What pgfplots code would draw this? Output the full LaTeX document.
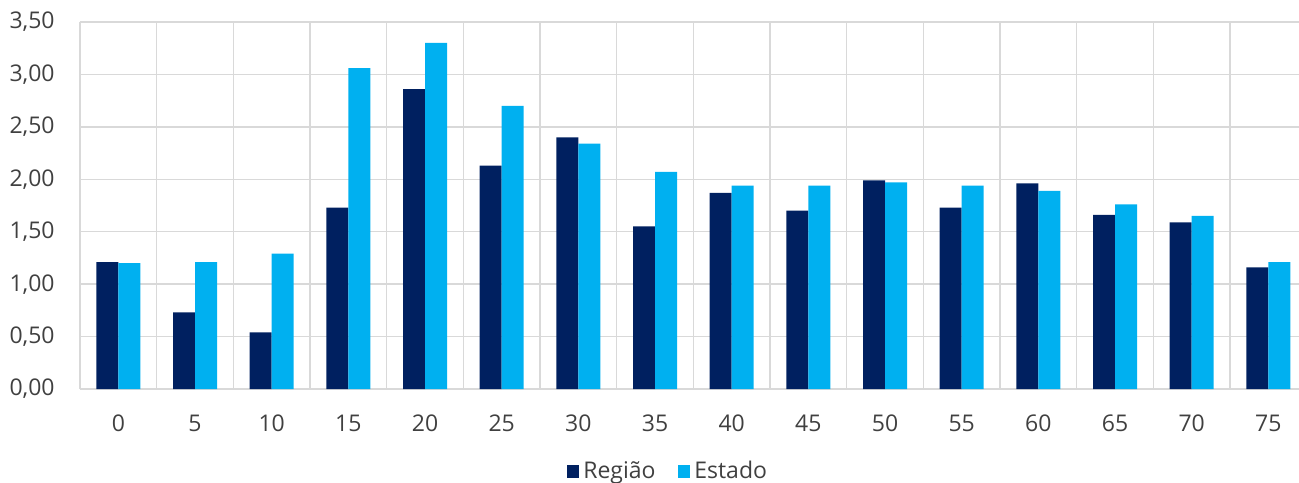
\documentclass[border=0pt]{standalone}
\usepackage{pgfplots}
\pgfplotsset{compat=1.18}
\usepackage{fontspec}
\setmainfont{Open Sans}
\definecolor{regiao}{HTML}{002060}
\definecolor{estado}{HTML}{00B0F0}
\definecolor{gridc}{HTML}{D9D9D9}
\definecolor{txt}{HTML}{404040}
\pgfplotstableread{
x R E
0 1.21 1.20
1 0.73 1.21
2 0.54 1.29
3 1.73 3.06
4 2.86 3.30
5 2.13 2.70
6 2.40 2.34
7 1.55 2.07
8 1.87 1.94
9 1.70 1.94
10 1.99 1.97
11 1.73 1.94
12 1.96 1.89
13 1.66 1.76
14 1.59 1.65
15 1.16 1.21
}\data
\begin{document}
\begin{tikzpicture}
\begin{axis}[
  at={(0,0)}, anchor=south west,
  scale only axis, width=609.5pt, height=183.5pt,
  xmin=-0.5, xmax=15.4, ymin=0, ymax=3.5,
  ytick={0,0.5,...,3.5},
  xtick={0,...,15},
  xticklabels={0,5,10,15,20,25,30,35,40,45,50,55,60,65,70,75},
  minor xtick={-0.5,0.5,1.5,2.5,3.5,4.5,5.5,6.5,7.5,8.5,9.5,10.5,11.5,12.5,13.5,14.5},
  xminorgrids, ymajorgrids,
  grid style={draw=gridc, line width=0.75pt},
  minor grid style={draw=gridc, line width=0.75pt},
  axis line style={draw=none},
  major tick length=0pt, minor tick length=0pt,
  tick label style={font=\fontsize{11.5}{14}\selectfont, text=txt},
  yticklabel style={anchor=east, inner sep=0pt, xshift=-12.5pt},
  xticklabel style={anchor=base, inner sep=0pt, yshift=-21.3pt},
  /pgf/number format/.cd, fixed, fixed zerofill, precision=2, use comma, assume math mode=true,
  /pgfplots/.cd,
  ybar=0pt, bar width=11pt,
  legend style={draw=none, fill=none, at={(0.483,-0.225)}, anchor=center,
    legend columns=2, font=\fontsize{11.5}{14}\selectfont, text=txt,
    /tikz/every even column/.append style={column sep=9pt}},
  legend image code/.code={\fill[#1] (0pt,-3.3pt) rectangle (6.4pt,3.3pt);},
]
\addplot[fill=regiao, draw=none] table[x=x, y=R] {\data};
\addplot[fill=estado, draw=none] table[x=x, y=E] {\data};
\legend{Região, Estado}
\end{axis}
\pgfresetboundingbox
\useasboundingbox (-40pt,-46.5pt) rectangle (609.5pt,194.5pt);
\end{tikzpicture}
\end{document}
